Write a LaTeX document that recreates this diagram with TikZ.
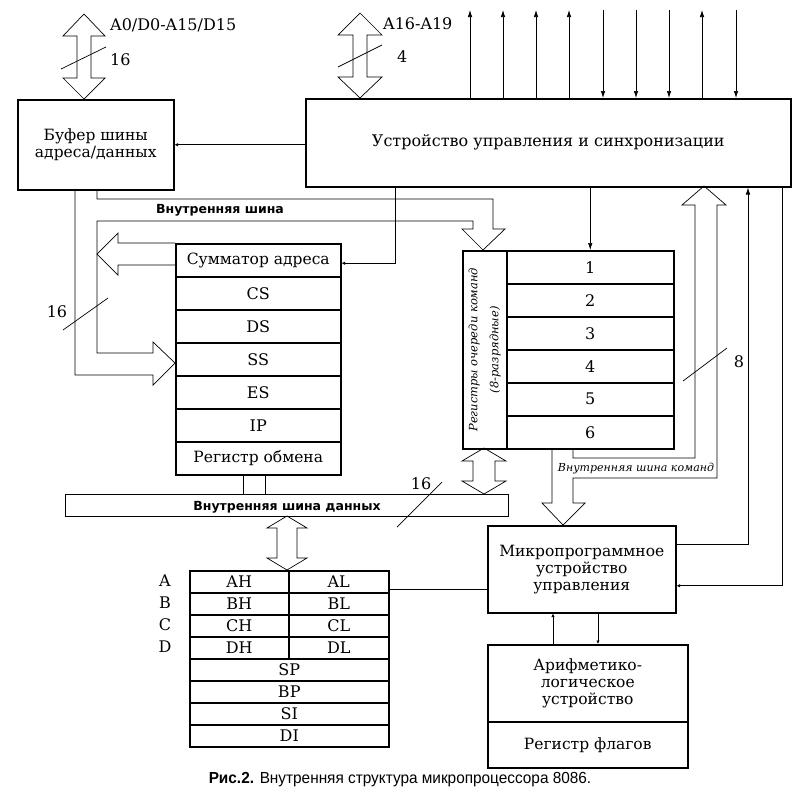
\documentclass[tikz,border=0pt]{standalone}
\usepackage{fontspec}
\setmainfont{DejaVu Serif}
\newfontfamily\busfont{DejaVu Sans}
\newfontfamily\capfont[FakeStretch=0.96]{Liberation Sans}
\usetikzlibrary{arrows.meta}
\begin{document}
\begin{tikzpicture}[x=1pt,y=-1pt,
  box/.style={draw, line width=1.5pt, inner sep=0pt, anchor=north west, align=center, font=\fontsize{15.5}{17}\selectfont},
  reg/.style={box, font=\fontsize{16}{17}\selectfont},
  wire/.style={line width=0.7pt},
  hollow/.style={line width=0.7pt, line join=miter},
  tipa/.style={-{Latex[length=7pt,width=4.5pt]}},
  dottip/.style={-{Latex[length=3.5pt,width=3.5pt]}},
  lbl/.style={inner sep=0pt, font=\fontsize{16}{17}\selectfont},
  buslbl/.style={inner sep=0pt, font=\busfont\bfseries\fontsize{12.5}{14}\selectfont},
]
\useasboundingbox (0,0) rectangle (800,793);
% main blocks
\node[box, minimum width=156pt, minimum height=90pt] (buf) at (17,99) {Буфер шины\\адреса/данных};
\node[box, minimum width=485pt, minimum height=88pt, font=\fontsize{16}{17}\selectfont] (ctrl) at (305,98) {Устройство управления и синхронизации};
% segment registers
\node[box, minimum width=165pt, minimum height=33pt] (sum) at (175,243) {Сумматор адреса};
\node[reg, minimum width=165pt, minimum height=33pt] (cs) at (175,276) {CS};
\node[reg, minimum width=165pt, minimum height=33pt] (ds) at (175,309) {DS};
\node[reg, minimum width=165pt, minimum height=33pt] (ss) at (175,342) {SS};
\node[reg, minimum width=165pt, minimum height=33pt] (es) at (175,375) {ES};
\node[reg, minimum width=165pt, minimum height=33pt] (ip) at (175,408) {IP};
\node[box, minimum width=165pt, minimum height=33pt] (obm) at (175,441) {Регистр обмена};
% queue
\node[box, minimum width=44pt, minimum height=198pt] (qlab) at (462,250) {};
\node[rotate=90, align=center, inner sep=0pt, font=\itshape\fontsize{11.5}{21}\selectfont] (qtxt) at (qlab.center) {Регистры очереди команд\\(8-разрядные)};
\node[reg, minimum width=167pt, minimum height=33pt] (q1) at (506,250) {1};
\node[reg, minimum width=167pt, minimum height=33pt] (q2) at (506,283) {2};
\node[reg, minimum width=167pt, minimum height=33pt] (q3) at (506,316) {3};
\node[reg, minimum width=167pt, minimum height=33pt] (q4) at (506,349) {4};
\node[reg, minimum width=167pt, minimum height=33pt] (q5) at (506,382) {5};
\node[reg, minimum width=167pt, minimum height=33pt] (q6) at (506,415) {6};
% internal data bus
\node[draw, line width=0.8pt, inner sep=0pt, anchor=north west, minimum width=443pt, minimum height=22pt] (bus) at (65,494) {};
\node[buslbl] (bustxt) at (287,507) {Внутренняя шина данных};
% general registers
\node[reg, minimum width=99pt, minimum height=22pt] (ah) at (189,570) {AH};
\node[reg, minimum width=100pt, minimum height=22pt] (al) at (288,570) {AL};
\node[reg, minimum width=99pt, minimum height=22pt] (bh) at (189,592) {BH};
\node[reg, minimum width=100pt, minimum height=22pt] (bl) at (288,592) {BL};
\node[reg, minimum width=99pt, minimum height=22pt] (ch) at (189,614) {CH};
\node[reg, minimum width=100pt, minimum height=22pt] (cl) at (288,614) {CL};
\node[reg, minimum width=99pt, minimum height=22pt] (dh) at (189,636) {DH};
\node[reg, minimum width=100pt, minimum height=22pt] (dl) at (288,636) {DL};
\node[reg, minimum width=199pt, minimum height=22pt] (sp) at (189,658) {SP};
\node[reg, minimum width=199pt, minimum height=22pt] (bp) at (189,680) {BP};
\node[reg, minimum width=199pt, minimum height=22pt] (si) at (189,702) {SI};
\node[reg, minimum width=199pt, minimum height=22pt] (di) at (189,724) {DI};
\node[lbl] (la) at (165,581) {A};
\node[lbl] (lb) at (165,603) {B};
\node[lbl] (lc) at (165,625) {C};
\node[lbl] (ld) at (165,647) {D};
% micro, ALU
\node[box, minimum width=188pt, minimum height=87pt] (micro) at (487,525) {Микропрограммное\\устройство\\управления};
\node[box, minimum width=200pt, minimum height=77pt] (alu) at (487,644) {Арифметико-\\логическое\\устройство};
\node[box, minimum width=200pt, minimum height=46pt] (flags) at (487,721) {Регистр флагов};

% hollow arrows
\draw[hollow] (84,14) -- (105,36) -- (91,36) -- (91,78) -- (105,78) -- (84,99) -- (63,78) -- (77,78) -- (77,36) -- (63,36) -- cycle;
\draw[hollow] (360,13) -- (382,35) -- (367,35) -- (367,77) -- (382,77) -- (360,98) -- (338,77) -- (353,77) -- (353,35) -- (338,35) -- cycle;
\draw[hollow] (97,189) -- (97,199) -- (493,199) -- (493,229) -- (505,229) -- (483,250) -- (462,229) -- (473,229) -- (473,221) -- (97,221) -- (97,353) -- (153,353) -- (153,342) -- (175,363) -- (153,385) -- (153,375) -- (75,375) -- (75,189);
\draw[hollow] (175,243) -- (118,243) -- (118,233) -- (97,254) -- (118,275) -- (118,265) -- (175,265);
\draw[hollow] (484,448) -- (506,461) -- (495,461) -- (495,481) -- (506,481) -- (484,494) -- (462,481) -- (473,481) -- (473,461) -- (462,461) -- cycle;
\draw[hollow] (287,516) -- (307,528) -- (297,528) -- (297,558) -- (307,558) -- (287,570) -- (267,558) -- (277,558) -- (277,528) -- (267,528) -- cycle;
\draw[hollow] (552,448) -- (552,503) -- (542,503) -- (563,525) -- (585,503) -- (573,503) -- (573,478) -- (717,478) -- (717,205) -- (726,205) -- (704,186) -- (682,205) -- (695,205) -- (695,458) -- (573,458) -- (573,448);

% bus width marks
\draw[wire] (61,69) -- (106,47);
\draw[wire] (338,67) -- (382,45);
\draw[wire] (63,330) -- (108,298);
\draw[wire] (397,527) -- (442,482);
\draw[wire] (683,381) -- (727,348);
\node[lbl, anchor=west] (ta) at (110,25) {A0/D0-A15/D15};
\node[lbl, anchor=west] (t16) at (110,60) {16};
\node[lbl, anchor=west] (tb) at (383,24) {A16-A19};
\node[lbl, anchor=west] (t4) at (397,57) {4};
\node[lbl] (t16b) at (57,312) {16};
\node[lbl] (t16c) at (421,484) {16};
\node[lbl] (t8) at (739,362) {8};
\node[buslbl] (ibus) at (220,210) {Внутренняя шина};
\node[inner sep=0pt, font=\itshape\fontsize{11}{12}\selectfont] (cbus) at (636,469) {Внутренняя шина команд};

% thin connectors
\coordinate (xa) at (395,0);
\coordinate (xb) at (748,0);
\coordinate (xc) at (782,0);
\coordinate (xd) at (553,0);
\coordinate (xe) at (598,0);
\coordinate (xf) at (243,0);
\coordinate (xg) at (265,0);
\draw[wire, dottip] (ctrl.west |- buf.east) -- (buf.east);
\draw[wire, dottip] (ctrl.south -| xa) |- ([yshift=-3pt]sum.east);
\draw[wire, tipa] (ctrl.south -| q1.north) -- (q1.north);
\draw[wire, tipa] ([yshift=25pt]micro.east) -| (ctrl.south -| xb);
\draw[wire, dottip] (ctrl.south -| xc) |- ([yshift=-16.5pt]micro.east);
\draw[wire] ([yshift=-8pt]al.east) -- ([yshift=-8pt]al.east -| micro.west);
\draw[wire, dottip] (alu.north -| xd) -- (micro.south -| xd);
\draw[wire, dottip] (micro.south -| xe) -- (alu.north -| xe);
\draw[wire] (obm.south -| xf) -- (bus.north -| xf);
\draw[wire] (obm.south -| xg) -- (bus.north -| xg);
% external control lines
\foreach \dx in {165,198,231,264,397} {
  \draw[wire, tipa] ([xshift=\dx pt]ctrl.north west) -- ([xshift=\dx pt, yshift=88pt]ctrl.north west);
}
\foreach \dx in {298,331,364,431} {
  \draw[wire, tipa] ([xshift=\dx pt, yshift=88pt]ctrl.north west) -- ([xshift=\dx pt]ctrl.north west);
}
% caption
\node[inner sep=0pt, font=\capfont\fontsize{16}{18}\selectfont] (cap) at (400,780) {\textbf{Рис.2.} Внутренняя структура микропроцессора 8086.};
\end{tikzpicture}
\end{document}
